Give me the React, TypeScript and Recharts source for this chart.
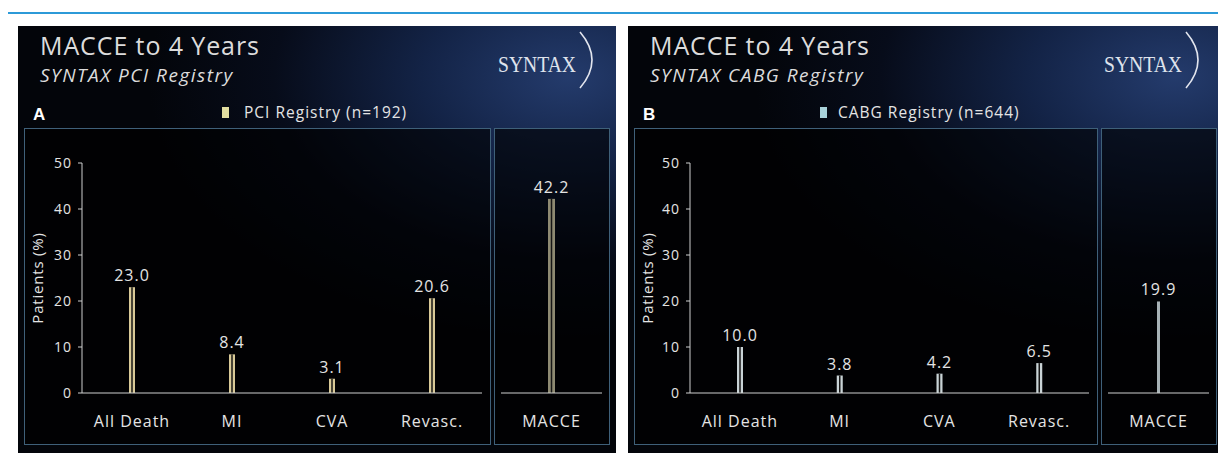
import React from "react"
import { Bar, BarChart, XAxis, YAxis, LabelList } from "recharts"

const categories = ["All Death", "MI", "CVA", "Revasc."]
const pciValues = [23.0, 8.4, 3.1, 20.6]
const cabgValues = [10.0, 3.8, 4.2, 6.5]
const pciMacce = [42.2]
const cabgMacce = [19.9]
const macceLabel = ["MACCE"]
const yTicks = [0, 10, 20, 30, 40, 50]

const FONT = "'Open Sans', sans-serif"
const AXIS = "#cfd0d0"
const TEXT = "#e4e4e4"

const toRows = (names: string[], values: number[]) => names.map((name, i) => ({ name, value: values[i] }))

// two bright strokes with a dark seam, like the slide's hollow bars
const twinBar = (color: string, seam: boolean) => (props: any) => {
  const { x, y, width, height } = props
  if (!height || height <= 0) return <g />
  return (
    <g>
      <rect x={x} y={y} width={width} height={height} fill={color} />
      {seam && <rect x={x + width / 2 - 0.75} y={y} width={1.5} height={height} fill="#161616" />}
    </g>
  )
}

const fmt = (v: any) => Number(v).toFixed(1)

const tickFont = { fill: TEXT, fontSize: 16, fontFamily: FONT, letterSpacing: 1 }
const valueFont = { fill: TEXT, fontSize: 16, fontFamily: FONT, letterSpacing: 1 }

function MainChart({ values, color, width, axisWidth }: { values: number[]; color: string; width: number; axisWidth: number }) {
  const data = toRows(categories, values)
  return (
    <BarChart width={width} height={317} data={data} margin={{ top: 35, right: 9, left: 0, bottom: 0 }}>
      <XAxis dataKey="name" height={52} stroke={AXIS} tickLine={false} tickMargin={17} tick={tickFont} />
      <YAxis
        width={axisWidth}
        domain={[0, 50]}
        ticks={yTicks}
        stroke={AXIS}
        tickSize={4}
        tickMargin={6}
        tick={{ fill: TEXT, fontSize: 14, fontFamily: FONT, letterSpacing: 1 }}
        label={{
          value: "Patients (%)",
          angle: -90,
          position: "insideLeft",
          offset: 14,
          fill: TEXT,
          fontSize: 15,
          fontFamily: FONT,
          letterSpacing: 0.8,
          style: { textAnchor: "middle" },
        }}
      />
      <Bar dataKey="value" barSize={6} shape={twinBar(color, true)} isAnimationActive={false}>
        <LabelList dataKey="value" position="top" offset={6} formatter={fmt} {...valueFont} />
      </Bar>
    </BarChart>
  )
}

function MacceChart({ values, color, barSize, seam }: { values: number[]; color: string; barSize: number; seam: boolean }) {
  const data = toRows(macceLabel, values)
  return (
    <BarChart width={116} height={317} data={data} margin={{ top: 35, right: 8, left: 7, bottom: 0 }}>
      <XAxis dataKey="name" height={52} stroke={AXIS} tickLine={false} tickMargin={17} tick={tickFont} />
      <YAxis hide domain={[0, 50]} />
      <Bar dataKey="value" barSize={barSize} shape={twinBar(color, seam)} isAnimationActive={false}>
        <LabelList dataKey="value" position="top" offset={6} formatter={fmt} {...valueFont} />
      </Bar>
    </BarChart>
  )
}

const boxStyle = (left: number, width: number): React.CSSProperties => ({
  position: "absolute",
  left,
  top: 102,
  width,
  height: 317,
  border: "1px solid #3f6079",
  boxSizing: "border-box",
  background: "rgba(0,0,0,0.62)",
  overflow: "hidden",
})

function Panel(props: {
  left: number
  width: number
  letter: string
  subtitle: string
  legend: string
  swatch: string
  values: number[]
  macce: number[]
  color: string
  macceColor: string
  macceBar: number
  macceSeam: boolean
  mainWidth: number
  axisWidth: number
}) {
  const { left, width } = props
  const isA = props.letter === "A"
  return (
    <div
      style={{
        position: "absolute",
        left,
        top: 26,
        width,
        height: 427,
        overflow: "hidden",
        background:
          "radial-gradient(ellipse 420px 260px at 92% 12%, #243b6c 0%, #132346 35%, #070c1a 70%, #03050a 100%), #03050a",
        fontFamily: FONT,
        color: TEXT,
      }}
    >
      <div style={{ position: "absolute", left: 22, top: 7, fontSize: 25, lineHeight: "25px", letterSpacing: 0.9, whiteSpace: "nowrap", color: "#dcdcdc" }}>
        MACCE to 4 Years
      </div>
      <div style={{ position: "absolute", left: 22, top: 40, fontSize: 19, lineHeight: "19px", letterSpacing: 1.5, fontStyle: "italic", whiteSpace: "nowrap", color: "#dcdcdc" }}>
        {props.subtitle}
      </div>
      <svg style={{ position: "absolute", left: width - 120, top: 0 }} width={120} height={80}>
        <text x={2} y={46} fontFamily="'Liberation Serif', serif" fontSize={24} fill="#dfe3ec" textLength={78} lengthAdjust="spacingAndGlyphs">
          SYNTAX
        </text>
        <path d="M 84 6 Q 108 34 84 62" fill="none" stroke="#e2e5ee" strokeWidth={1.6} />
      </svg>
      <div style={{ position: "absolute", left: 15, top: 80, fontSize: 17, lineHeight: "17px", fontWeight: 700, color: "#ffffff", fontFamily: "'Liberation Sans', Arial, sans-serif" }}>
        {props.letter}
      </div>
      <div style={{ position: "absolute", left: isA ? 204 : 192, top: 81, width: 7, height: 11, background: props.swatch }} />
      <div style={{ position: "absolute", left: isA ? 226 : 210, top: 78, fontSize: 15.5, lineHeight: "16px", letterSpacing: 1, whiteSpace: "nowrap" }}>
        {props.legend}
      </div>
      <div style={boxStyle(6, props.mainWidth)}>
        <div style={{ position: "absolute", left: -1, top: -1 }}>
          <MainChart values={props.values} color={props.color} width={props.mainWidth} axisWidth={props.axisWidth} />
        </div>
      </div>
      <div style={boxStyle(6 + props.mainWidth + 3, 116)}>
        <div style={{ position: "absolute", left: -1, top: -1 }}>
          <MacceChart values={props.macce} color={props.macceColor} barSize={props.macceBar} seam={props.macceSeam} />
        </div>
      </div>
    </div>
  )
}

export default function App() {
  return (
    <div style={{ position: "relative", margin: -8, width: 1226, height: 463, background: "#ffffff", overflow: "hidden" }}>
      <div style={{ position: "absolute", left: 6, top: 12, width: 1220, height: 2, background: "#2c9ad8" }} />
      <div style={{ position: "absolute", left: 6, top: 12, width: 2, height: 451, background: "#2c9ad8" }} />
      <Panel
        left={18}
        width={598}
        letter="A"
        subtitle="SYNTAX PCI Registry"
        legend="PCI Registry (n=192)"
        swatch="#e2dea0"
        values={pciValues}
        macce={pciMacce}
        color="#d8c997"
        macceColor="#8e8a72"
        macceBar={7}
        macceSeam={true}
        mainWidth={467}
        axisWidth={58}
      />
      <Panel
        left={628}
        width={594}
        letter="B"
        subtitle="SYNTAX CABG Registry"
        legend="CABG Registry (n=644)"
        swatch="#a9d2da"
        values={cabgValues}
        macce={cabgMacce}
        color="#c9d3d6"
        macceColor="#a7b2b6"
        macceBar={3}
        macceSeam={false}
        mainWidth={464}
        axisWidth={56}
      />
    </div>
  )
}
